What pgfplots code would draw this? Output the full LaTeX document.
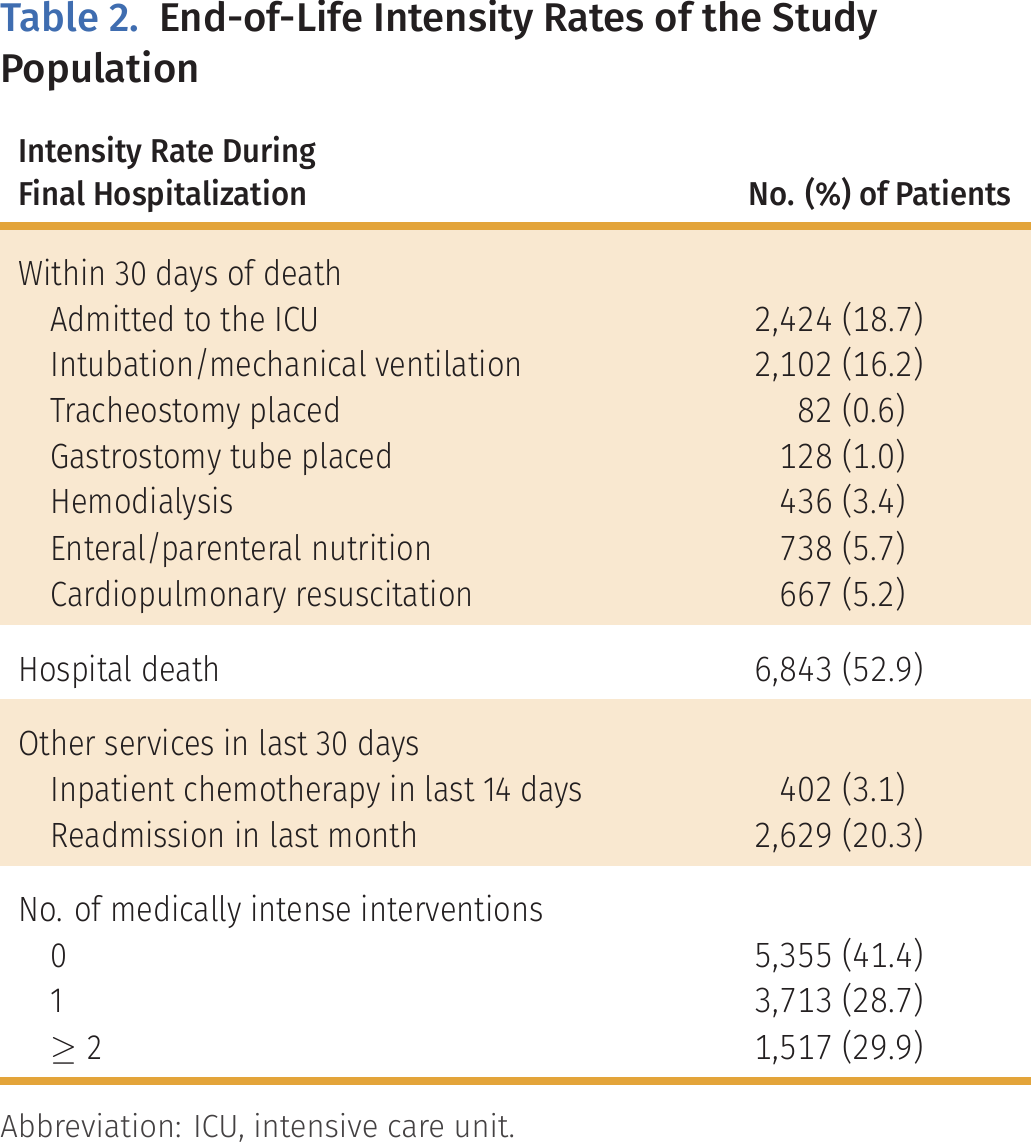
\documentclass[border=0pt]{standalone}
\usepackage{pgfplots}
\pgfplotsset{compat=1.18}
\usepackage{pgfplotstable}
\usepackage{fontspec}
\setmainfont{Fira Sans Light}[FakeStretch=0.88]
\newfontfamily\numfont{Fira Sans Light}[Numbers=Monospaced, FakeStretch=0.915]
\newfontfamily\medfont{Fira Sans Medium}
\newfontfamily\hdfont{Fira Sans Medium}[FakeStretch=0.94]
\newfontfamily\notefont{Fira Sans Light}[FakeStretch=0.965]
\definecolor{txt}{HTML}{231F20}
\definecolor{ttlblue}{HTML}{3F6DB0}
\definecolor{rule}{HTML}{E3A43A}
\definecolor{band}{HTML}{F9E8D0}
\pgfplotstableread[col sep=semicolon]{
x;y;label
18;283;Within 30 days of death
50;329;Admitted to the ICU
50;374;Intubation/mechanical ventilation
50;420;Tracheostomy placed
50;466;Gastrostomy tube placed
50;511;Hemodialysis
50;557;Enteral/parenteral nutrition
50;603;Cardiopulmonary resuscitation
18;678;Hospital death
18;752;Other services in last 30 days
50;798;Inpatient chemotherapy in last 14 days
50;844;Readmission in last month
18;918;No. of medically intense interventions
50;964;0
50;1009;1
50;1055;$\geq$\hspace{0.3em}2
}\lefttab
\pgfplotstableread[col sep=semicolon]{
x;y;label
922;329;2,424 (18.7)
922;374;2,102 (16.2)
922;420;82 (0.6)\hphantom{0}
922;466;128 (1.0)\hphantom{0}
922;511;436 (3.4)\hphantom{0}
922;557;738 (5.7)\hphantom{0}
922;603;667 (5.2)\hphantom{0}
922;678;6,843 (52.9)
922;798;402 (3.1)\hphantom{0}
922;844;2,629 (20.3)
922;964;5,355 (41.4)
922;1009;3,713 (28.7)
922;1055;1,517 (29.9)
}\righttab
\begin{document}
\begin{tikzpicture}
\begin{axis}[hide axis, scale only axis, width=514.5pt, height=571pt,
  xmin=0, xmax=1029, ymin=0, ymax=1142, y dir=reverse, clip=false]
\fill[band] (axis cs:0,228) rectangle (axis cs:1029,622);
\fill[band] (axis cs:0,696) rectangle (axis cs:1029,862);
\fill[rule] (axis cs:0,220) rectangle (axis cs:1029,228);
\fill[rule] (axis cs:0,1073) rectangle (axis cs:1029,1081);
\node[anchor=base west, inner sep=0pt, font=\medfont\fontsize{20}{24}\selectfont, text=txt]
  at (axis cs:0,30) {\textcolor{ttlblue}{Table 2.}\hspace{0.5em}End-of-Life Intensity Rates of the Study};
\node[anchor=base west, inner sep=0pt, font=\medfont\fontsize{20}{24}\selectfont, text=txt]
  at (axis cs:0,80) {Population};
\node[anchor=base west, inner sep=0pt, font=\hdfont\fontsize{16.5}{20}\selectfont, text=txt]
  at (axis cs:18,160) {Intensity Rate During};
\node[anchor=base west, inner sep=0pt, font=\hdfont\fontsize{16.5}{20}\selectfont, text=txt]
  at (axis cs:18,203) {Final Hospitalization};
\node[anchor=base east, inner sep=0pt, font=\hdfont\fontsize{16.5}{20}\selectfont, text=txt]
  at (axis cs:1010,203) {No. (\%) of Patients};
\addplot[draw=none, mark=none, nodes near coords, point meta=explicit symbolic,
  every node near coord/.append style={anchor=base west, inner sep=0pt, text=txt,
    font=\fontsize{17.5}{21}\selectfont}]
  table[x=x, y=y, meta=label] {\lefttab};
\addplot[draw=none, mark=none, nodes near coords, point meta=explicit symbolic,
  every node near coord/.append style={anchor=base east, inner sep=0pt, text=txt,
    font=\numfont\fontsize{17.5}{21}\selectfont}]
  table[x=x, y=y, meta=label] {\righttab};
\node[anchor=base west, inner sep=0pt, font=\notefont\fontsize{16}{20}\selectfont, text=txt!85]
  at (axis cs:0,1133) {Abbreviation: ICU, intensive care unit.};
\end{axis}
\end{tikzpicture}
\end{document}
